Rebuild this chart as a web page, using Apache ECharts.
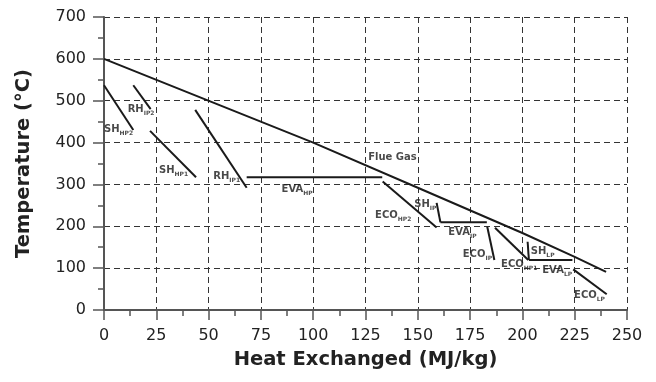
<!DOCTYPE html>
<html>
<head>
<meta charset="utf-8">
<script src="https://cdn.jsdelivr.net/npm/echarts@6/dist/echarts.min.js"></script>
<style>
  html, body { margin: 0; padding: 0; background: #fff; }
  #main { width: 656px; height: 382px; }
</style>
</head>
<body>
<div id="main"></div>
<script>
// 轴刻度
const xTicks = [0, 25, 50, 75, 100, 125, 150, 175, 200, 225, 250]
const yTicks = [0, 100, 200, 300, 400, 500, 600, 700]

// 烟气线 (热量, 温度)
const flueGas = [[0, 600], [100, 400], [150, 292], [200, 184], [225, 127], [240, 91]]

// 各换热段
const shHP2 = [[0, 537], [14, 430]]
const rhIP2 = [[14, 537], [22.3, 480]]
const shHP1 = [[22, 428], [44, 317]]
const rhIP1 = [[43.6, 478], [68.2, 292]]
const evaHP = [[68.2, 317], [133, 317]]
const ecoHP2 = [[133.2, 307], [159, 197]]
const shIP = [[159, 256], [160.8, 209.5]]
const evaIP = [[160.8, 209.5], [183, 209.5]]
const ecoIP = [[183.2, 199], [186.6, 119.5]]
const ecoHP1 = [[186.9, 196.5], [202.8, 119.5]]
const shLP = [[202.5, 163], [203.1, 119.5]]
const evaLP = [[203.1, 119.5], [223.9, 119.5]]
const ecoLP = [[224.3, 97], [240.3, 37.5]]

const segments = [flueGas, shHP2, rhIP2, shHP1, rhIP1, evaHP, ecoHP2, shIP, evaIP, ecoIP, ecoHP1, shLP, evaLP, ecoLP]

// 标注文字
const labelMain = ['SH', 'RH', 'SH', 'RH', 'EVA', 'Flue Gas', 'ECO', 'SH', 'EVA', 'ECO', 'ECO', 'SH', 'EVA', 'ECO']
const labelSub = ['HP2', 'IP2', 'HP1', 'IP1', 'HP', '', 'HP2', 'IP', 'IP', 'IP', 'HP1', 'LP', 'LP', 'LP']
const labelX = [0, 11.3, 26.3, 52.2, 84.9, 126.3, 129.6, 148.3, 164.6, 171.5, 189.8, 204, 209.5, 224.7]
const labelY = [432, 479.5, 334.5, 318.4, 288.3, 363.8, 227, 253.2, 185.6, 133, 110, 141, 95.6, 35.8]

const labelData = labelX.map((x, i) => ({ value: [x, labelY[i]], main: labelMain[i], sub: labelSub[i] }))

const chart = echarts.init(document.getElementById('main'), null, { renderer: 'canvas' })

const option = {
  backgroundColor: '#ffffff',
  animation: false,
  grid: { left: 104, right: 29, top: 17, bottom: 72 },
  xAxis: {
    type: 'value',
    min: xTicks[0],
    max: xTicks[xTicks.length - 1],
    interval: 25,
    name: 'Heat Exchanged (MJ/kg)',
    nameLocation: 'middle',
    nameGap: 40,
    nameTextStyle: { fontFamily: 'DejaVu Sans', fontWeight: 'bold', fontSize: 19.5, color: '#222' },
    axisLine: { lineStyle: { color: '#555', width: 2 } },
    axisTick: { length: 10, lineStyle: { color: '#555', width: 1.5 } },
    minorTick: { show: true, splitNumber: 2, length: 6, lineStyle: { color: '#555', width: 1.5 } },
    axisLabel: { margin: 18, fontFamily: 'DejaVu Sans', fontSize: 16, color: '#222' },
    splitLine: { lineStyle: { color: '#333', width: 1, type: [6, 4] } }
  },
  yAxis: {
    type: 'value',
    min: yTicks[0],
    max: yTicks[yTicks.length - 1],
    interval: 100,
    name: 'Temperature (°C)',
    nameLocation: 'middle',
    nameGap: 70,
    nameTextStyle: { fontFamily: 'DejaVu Sans', fontWeight: 'bold', fontSize: 19.5, color: '#222' },
    axisLine: { show: true, lineStyle: { color: '#555', width: 2 } },
    axisTick: { show: true, length: 11, lineStyle: { color: '#555', width: 1.5 } },
    minorTick: { show: true, splitNumber: 2, length: 6, lineStyle: { color: '#555', width: 1.5 } },
    axisLabel: { margin: 18, fontFamily: 'DejaVu Sans', fontSize: 16, color: '#222' },
    splitLine: { lineStyle: { color: '#333', width: 1, type: [6, 4] } }
  },
  series: segments.map(seg => ({
    type: 'line',
    data: seg,
    showSymbol: false,
    silent: true,
    lineStyle: { color: '#1a1a1a', width: 2 }
  })).concat([{
    type: 'scatter',
    data: labelData,
    symbolSize: 0,
    silent: true,
    label: {
      show: true,
      position: 'right',
      distance: 0,
      formatter: p => p.data.sub ? '{m|' + p.data.main + '}{s|' + p.data.sub + '}' : '{m|' + p.data.main + '}',
      rich: {
        m: { fontFamily: 'DejaVu Sans', fontWeight: 'bold', fontSize: 10, lineHeight: 14, color: '#1a1a1a' },
        s: { fontFamily: 'DejaVu Sans', fontWeight: 'bold', fontSize: 6, lineHeight: 8, verticalAlign: 'bottom', color: '#1a1a1a' }
      }
    }
  }])
}

chart.setOption(option)
</script>
</body>
</html>
